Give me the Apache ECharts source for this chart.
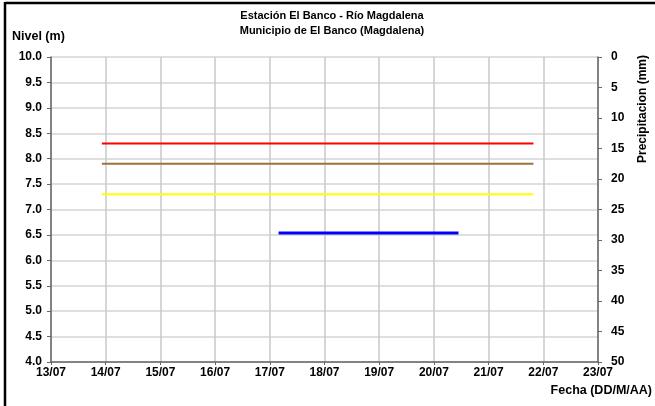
<!DOCTYPE html>
<html>
<head>
<meta charset="utf-8">
<script src="https://cdn.jsdelivr.net/npm/echarts@6/dist/echarts.min.js"></script>
<style>
html,body{margin:0;padding:0;background:#fff;}
#chart{width:655px;height:406px;}
</style>
</head>
<body>
<div id="chart"></div>
<script>
// Data (days of July on x axis)
var titleLines = ['Estación El Banco - Río Magdalena', 'Municipio de El Banco (Magdalena)'];
var monthSuffix = '/07';
var xTicksMin = 13, xTicksMax = 23;
var redLine = [[13.93, 8.3], [21.82, 8.3]];
var brownLine = [[13.93, 7.9], [21.82, 7.9]];
var yellowLine = [[13.93, 7.3], [21.82, 7.3]];
var levelSeries = [[17.16, 6.54], [20.45, 6.54]];

var FONT = 'Liberation Sans, Arial, sans-serif';
var chart = echarts.init(document.getElementById('chart'), null, {renderer: 'canvas'});

function lineSeries(name, data, color, width) {
  return {
    name: name, type: 'line', data: data, showSymbol: false, symbol: 'none',
    xAxisIndex: 0, yAxisIndex: 0, animation: false,
    lineStyle: {color: color, width: width}, z: 5
  };
}

var axisLabelStyle = {color: '#000', fontFamily: FONT, fontWeight: 'bold', fontSize: 12};

chart.setOption({
  animation: false,
  backgroundColor: '#fff',
  title: {
    text: titleLines.join('\n'),
    left: 327, top: 3, textAlign: 'center',
    textStyle: {fontFamily: FONT, fontWeight: 'bold', fontSize: 11, lineHeight: 15, color: '#000'}
  },
  grid: {left: 51, right: 57, top: 57, bottom: 44, containLabel: false},
  xAxis: {
    type: 'value', min: xTicksMin, max: xTicksMax, interval: 1,
    axisLine: {show: true, lineStyle: {color: '#666', width: 1.5}, onZero: false},
    axisTick: {show: true, length: 3, lineStyle: {color: '#666', width: 1}},
    splitLine: {show: true, lineStyle: {color: '#c8c8c8', width: 1.5}},
    axisLabel: Object.assign({margin: 5, formatter: function (v) { return Math.round(v) + monthSuffix; }}, axisLabelStyle)
  },
  yAxis: [{
    type: 'value', min: 4, max: 10, interval: 0.5, position: 'left',
    axisLine: {show: true, lineStyle: {color: '#666', width: 1.5}, onZero: false},
    axisTick: {show: true, length: 4, lineStyle: {color: '#666', width: 1}},
    splitLine: {show: true, lineStyle: {color: '#d4d4d4', width: 1.5}},
    axisLabel: Object.assign({margin: 9, formatter: function (v) { return v.toFixed(1); }}, axisLabelStyle)
  }, {
    type: 'value', min: 0, max: 50, interval: 5, position: 'right', inverse: true,
    axisLine: {show: true, lineStyle: {color: '#666', width: 1.5}, onZero: false},
    axisTick: {show: true, length: 4, lineStyle: {color: '#666', width: 1}},
    splitLine: {show: false},
    axisLabel: Object.assign({margin: 13}, axisLabelStyle)
  }],
  series: [
    lineSeries('Rojo', redLine, '#ff0000', 2),
    lineSeries('Marrón', brownLine, '#a0703c', 2),
    lineSeries('Amarillo', yellowLine, '#ffff00', 2),
    lineSeries('Nivel', levelSeries, '#0000ff', 3)
  ],
  graphic: [
    {type: 'line', shape: {x1: 5, y1: 3, x2: 655, y2: 3}, style: {stroke: '#000', lineWidth: 2.5}},
    {type: 'line', shape: {x1: 5, y1: 2, x2: 5, y2: 406}, style: {stroke: '#000', lineWidth: 2.5}},
    {type: 'text', left: 12, top: 30, style: {text: 'Nivel (m)', fontFamily: FONT, fontWeight: 'bold', fontSize: 12.5, fill: '#000'}},
    {type: 'text', x: 643, y: 109, rotation: Math.PI / 2,
      style: {text: 'Precipitacion (mm)', fontFamily: FONT, fontWeight: 'bold', fontSize: 12, fill: '#000', align: 'center', verticalAlign: 'middle'}},
    {type: 'text', right: 3, top: 384, style: {text: 'Fecha (DD/M/AA)', fontFamily: FONT, fontWeight: 'bold', fontSize: 12.5, fill: '#000'}}
  ]
});
</script>
</body>
</html>
